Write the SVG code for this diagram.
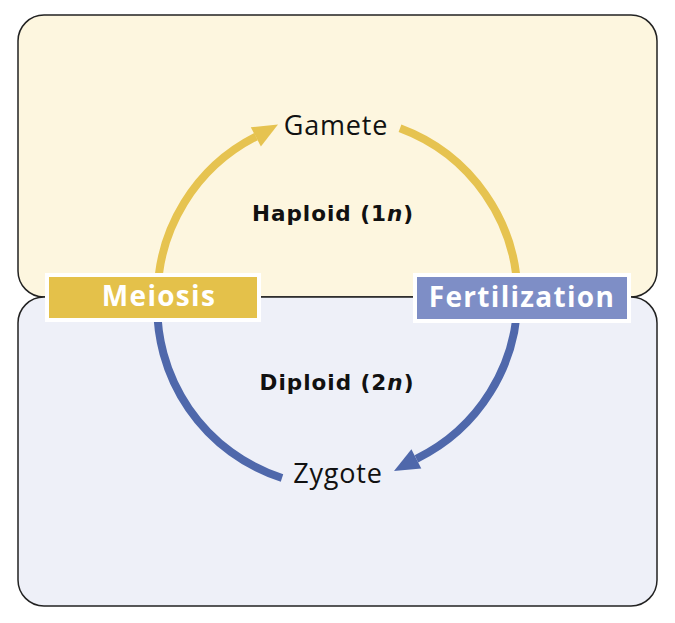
<svg xmlns="http://www.w3.org/2000/svg" width="675" height="623" viewBox="0 0 675 623">
<defs>
<style>
.panel{stroke:#222;stroke-width:1.5}
.lbl{font-family:"Open Sans","Noto Sans","Liberation Sans",sans-serif;fill:#111;text-anchor:middle;font-size:27px;letter-spacing:0.8px}
.box{stroke:#fff;stroke-width:4}
.boxt{font-family:"Open Sans","Noto Sans","Liberation Sans",sans-serif;font-weight:bold;fill:#fff;text-anchor:middle;font-size:28px;letter-spacing:1.3px}
.st{font-family:"DejaVu Sans","Liberation Sans",sans-serif;font-weight:bold;fill:#111;text-anchor:middle;font-size:21.5px;letter-spacing:1px}
.arc{fill:none;stroke-width:8}
.y{stroke:#e6c350}
.b{stroke:#4f68ab}
</style>
</defs>
<rect width="675" height="623" fill="#fff"/>
<g id="haploid-panel">
<rect class="panel" x="18" y="15" width="639" height="282" rx="26" fill="#fdf6df"/>
</g>
<g id="diploid-panel">
<rect class="panel" x="18" y="297" width="639" height="309" rx="26" fill="#eef0f8"/>
</g>
<g id="connectors">
<path class="arc y" d="M157.5,297 A180,180 0 0 1 256,136.6"/>
<polygon fill="#e6c350" points="278,124.5 250.8,127.2 260.9,146.5"/>
<path class="arc y" d="M400,128.2 A180,180 0 0 1 517.5,297"/>
<path class="arc b" d="M517.5,297 A180,180 0 0 1 416.4,458.8"/>
<polygon fill="#4f68ab" points="394,471 421.3,468.4 411.4,449.2"/>
<path class="arc b" d="M282,478 A180,180 0 0 1 157.5,297"/>
</g>
<g id="haploid-label"><text class="st" x="333" y="221">Haploid (1<tspan font-style="italic">n</tspan>)</text></g>
<g id="diploid-label"><text class="st" x="337" y="390">Diploid (2<tspan font-style="italic">n</tspan>)</text></g>
<g id="gamete"><text class="lbl" x="336" y="135">Gamete</text></g>
<g id="zygote"><text class="lbl" x="338" y="483">Zygote</text></g>
<g id="meiosis">
<rect class="box" x="47" y="275" width="212" height="45" fill="#e4c14a"/>
<text class="boxt" x="159" y="306">Meiosis</text>
</g>
<g id="fertilization">
<rect class="box" x="415" y="275" width="214" height="46" fill="#7e8ec6"/>
<text class="boxt" x="522" y="307">Fertilization</text>
</g>
</svg>
